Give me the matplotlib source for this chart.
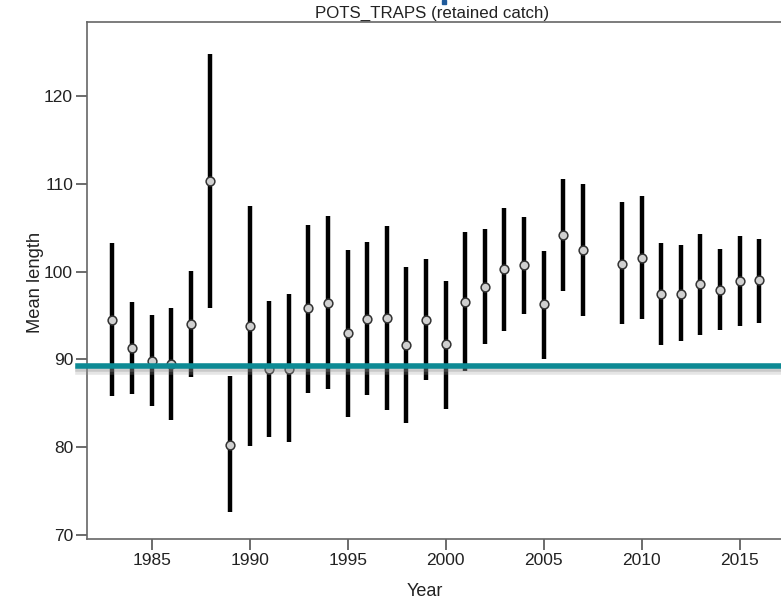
import numpy as np
import matplotlib
matplotlib.use("Agg")
import matplotlib.pyplot as plt
import matplotlib.patheffects as pe
from matplotlib.patches import Rectangle

plt.rcParams['font.family'] = ['Liberation Sans', 'DejaVu Sans']

# mean length per year with interval (2008 has no data)
years = [1983, 1984, 1985, 1986, 1987, 1988, 1989, 1990, 1991, 1992,
         1993, 1994, 1995, 1996, 1997, 1998, 1999, 2000, 2001, 2002,
         2003, 2004, 2005, 2006, 2007, 2009, 2010, 2011, 2012, 2013,
         2014, 2015, 2016]
mean_len = [94.5, 91.3, 89.8, 89.5, 94.0, 110.3, 80.3, 93.8, 88.9, 88.9,
            95.8, 96.4, 93.0, 94.6, 94.7, 91.6, 94.5, 91.7, 96.5, 98.3,
            100.3, 100.7, 96.3, 104.2, 102.5, 100.9, 101.6, 97.5, 97.5, 98.6,
            97.95, 98.9, 99.0]
lower = [85.8, 86.0, 84.7, 83.1, 88.0, 95.8, 72.6, 80.1, 81.2, 80.6,
         86.2, 86.6, 83.4, 85.9, 84.2, 82.7, 87.7, 84.4, 88.7, 91.7,
         93.2, 95.2, 90.0, 97.8, 94.95, 94.0, 94.6, 91.65, 92.1, 92.8,
         93.3, 93.8, 94.2]
upper = [103.2, 96.5, 95.0, 95.9, 100.1, 124.8, 88.1, 107.5, 96.7, 97.4,
         105.3, 106.3, 102.5, 103.4, 105.2, 100.5, 101.4, 98.9, 104.5, 104.8,
         107.3, 106.2, 102.4, 110.6, 110.0, 107.9, 108.6, 103.2, 103.0, 104.3,
         102.6, 104.1, 103.7]
ref_level = 89.2

W, H = 781, 604
fig = plt.figure(figsize=(W / 100, H / 100), dpi=100)
ax = fig.add_axes([87 / W, 1 - 539 / H, 1 - 87 / W, (539 - 22) / H])

ax.vlines(years, lower, upper, color='black', lw=3.2, zorder=2)
ax.plot(years, mean_len, 'o', ms=6.3, mfc='#d0d0d0', mec='#333333', mew=1.1, zorder=3)

# reference line, drawn a little past the left axis
ax.axhline(ref_level, xmin=-0.013, xmax=1, color='#0d8a94', lw=4, zorder=4,
           clip_on=False,
           path_effects=[pe.SimpleLineShadow(offset=(0, -4), shadow_color='#999999', alpha=0.25),
                         pe.SimpleLineShadow(offset=(0, -2), shadow_color='#888888', alpha=0.3),
                         pe.Normal()])

ax.set_xlim(1981.70, 2017.11)
ax.set_ylim(69.54, 128.43)
ax.set_xticks([1985, 1990, 1995, 2000, 2005, 2010, 2015])
ax.set_yticks([70, 80, 90, 100, 110, 120])

for s in ['left', 'bottom', 'top']:
    ax.spines[s].set_color('#666666')
    ax.spines[s].set_linewidth(1.2)
ax.spines['right'].set_visible(False)
ax.tick_params(axis='both', direction='out', length=8, width=1.1, color='#444444',
               labelsize=12.5, labelcolor='#222222', pad=2)

fig.text(432 / W, 1 - 13 / H, 'POTS_TRAPS (retained catch)', ha='center', va='center',
         fontsize=12.2, color='#222222')
fig.text(35 / W, 1 - 282 / H, 'Mean length', rotation=90, ha='center', va='center',
         fontsize=13.2, color='#222222')
fig.text(425 / W, 1 - 591 / H, 'Year', ha='center', va='center',
         fontsize=13, color='#222222')

# small blue mark at the top edge
fig.patches.append(Rectangle((442 / W, 1 - 4 / H), 4 / W, 4 / H, transform=fig.transFigure,
                             color='#1f5a9a', figure=fig))

fig.savefig('out.png', dpi=100)
